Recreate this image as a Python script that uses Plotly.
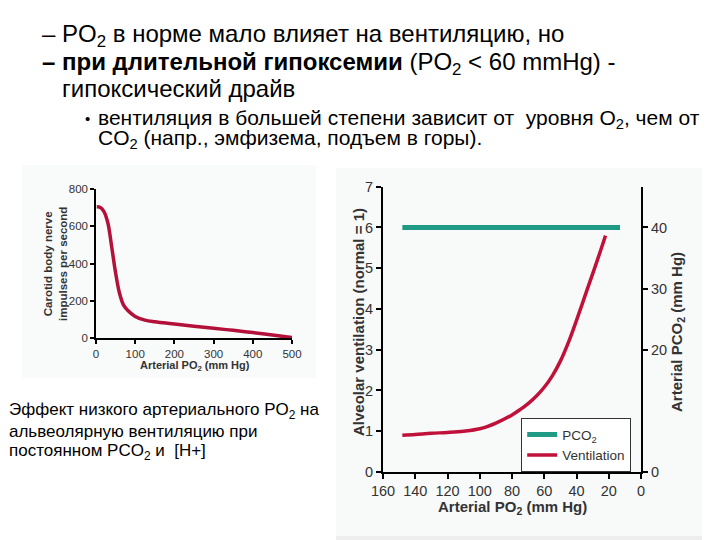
import plotly.graph_objects as go

# ---- data ----
carotid_po2 = [2, 10, 20, 30, 40, 50, 60, 70, 80, 100, 125, 150, 200, 250, 300, 350, 400, 450, 500]
carotid_imp = [705, 702, 680, 620, 490, 350, 240, 178, 150, 115, 96, 87, 75, 63, 52, 41, 29, 16, 2]

vent_po2 = [148, 140, 130, 120, 110, 100, 90, 80, 75, 70, 65, 60, 55, 50, 45, 40, 35, 30, 25, 22]
vent_val = [0.9, 0.92, 0.95, 0.97, 1.0, 1.06, 1.2, 1.4, 1.53, 1.68, 1.86, 2.08, 2.36, 2.72, 3.18, 3.72, 4.29, 4.86, 5.44, 5.8]

pco2_po2 = [148, 13]
pco2_val = [40, 40]

left_xticks = [0, 100, 200, 300, 400, 500]
left_yticks = [0, 200, 400, 600, 800]
right_xticks = [160, 140, 120, 100, 80, 60, 40, 20, 0]
right_yticks = [0, 1, 2, 3, 4, 5, 6, 7]
right_y2ticks = [0, 20, 30, 40]

W, H = 720, 540
FONT = "Liberation Sans, Arial, sans-serif"
RED = "#c0113a"
TEAL = "#1f9a87"


def px(x):
    return x / W


def py(y):
    return 1 - y / H


fig = go.Figure()

fig.add_trace(go.Scatter(x=carotid_po2, y=carotid_imp, mode="lines",
                         line=dict(color="#b3113a", width=3.5, shape="spline"),
                         xaxis="x", yaxis="y", showlegend=False))
fig.add_trace(go.Scatter(x=pco2_po2, y=pco2_val, mode="lines", name="PCO<sub>2</sub>",
                         line=dict(color=TEAL, width=5),
                         xaxis="x2", yaxis="y3"))
fig.add_trace(go.Scatter(x=vent_po2, y=vent_val, mode="lines", name="Ventilation",
                         line=dict(color=RED, width=3.5, shape="spline"),
                         xaxis="x2", yaxis="y2"))

tickfont_l = dict(family=FONT, size=11.5, color="#333333")
tickfont_r = dict(family=FONT, size=14.5, color="#333333")

fig.update_layout(
    width=W, height=H,
    margin=dict(l=0, r=0, t=0, b=0, pad=0, autoexpand=False),
    paper_bgcolor="white", plot_bgcolor="rgba(0,0,0,0)",
    font=dict(family=FONT, color="black"),
    xaxis=dict(domain=[px(96), px(292)], range=[0, 500], anchor="y",
               tickvals=left_xticks, showline=True, linecolor="black", linewidth=1.5,
               ticks="outside", ticklen=4, tickcolor="black", tickwidth=1.5,
               showgrid=False, zeroline=False, tickfont=tickfont_l),
    yaxis=dict(domain=[py(338), py(189)], range=[0, 800], anchor="x",
               tickvals=left_yticks, showline=True, linecolor="black", linewidth=1.5,
               ticks="outside", ticklen=4, tickcolor="black", tickwidth=1.5,
               showgrid=False, zeroline=False, tickfont=tickfont_l),
    xaxis2=dict(domain=[px(383), px(641)], range=[160, 0], anchor="y2",
                tickvals=right_xticks, showline=True, linecolor="black", linewidth=2,
                ticks="outside", ticklen=5, tickcolor="black", tickwidth=2,
                showgrid=False, zeroline=False, tickfont=tickfont_r),
    yaxis2=dict(domain=[py(472), py(186.7)], range=[0, 7], anchor="x2",
                tickvals=right_yticks, showline=True, linecolor="black", linewidth=2,
                ticks="outside", ticklen=5, tickcolor="black", tickwidth=2,
                showgrid=False, zeroline=False, tickfont=tickfont_r),
    yaxis3=dict(overlaying="y2", side="right", anchor="x2", range=[0, 7 * 40 / 6],
                tickvals=right_y2ticks, showline=True, linecolor="black", linewidth=2,
                ticks="outside", ticklen=5, tickcolor="black", tickwidth=2,
                showgrid=False, zeroline=False, tickfont=tickfont_r),
    legend=dict(x=px(521), y=py(418), xanchor="left", yanchor="top",
                bgcolor="white", bordercolor="#333333", borderwidth=1.2,
                font=dict(family=FONT, size=13.5, color="#333333"),
                tracegroupgap=0, itemwidth=30),
)

# faint background panels of the pasted images
fig.add_shape(type="rect", xref="paper", yref="paper", x0=px(22), x1=px(316), y0=py(378), y1=py(165),
              fillcolor="#f9fafa", line=dict(width=0), layer="below")
fig.add_shape(type="rect", xref="paper", yref="paper", x0=px(336), x1=px(702), y0=py(536), y1=py(168),
              fillcolor="#f8fafa", line=dict(width=0), layer="below")
fig.add_shape(type="rect", xref="paper", yref="paper", x0=px(336), x1=px(702), y0=py(540), y1=py(536),
              fillcolor="#eeeeee", line=dict(width=0), layer="below")

ann = []


def text(x, y, t, size, xanchor="left", yanchor="middle", angle=0, color="black", bold=False):
    if bold:
        t = "<b>" + t + "</b>"
    ann.append(dict(x=px(x), y=py(y), xref="paper", yref="paper", text=t, showarrow=False,
                    xanchor=xanchor, yanchor=yanchor, textangle=angle,
                    font=dict(family=FONT, size=size, color=color)))


# header text
text(40, 36, "– PO<sub>2</sub> в норме мало влияет на вентиляцию, но", 24)
text(40, 63, "<b>– при длительной гипоксемии</b> (PO<sub>2</sub> &lt; 60 mmHg) -", 24)
text(60, 88, "гипоксический драйв", 24)
text(83, 119, "•", 15)
text(96, 119, "вентиляция в большей степени зависит от  уровня O<sub>2</sub>, чем от", 21)
text(96, 139, "CO<sub>2</sub> (напр., эмфизема, подъем в горы).", 21)

# caption
text(7, 411, "Эффект низкого артериального PO<sub>2</sub> на", 17)
text(7, 431, "альвеолярную вентиляцию при", 17)
text(7, 452, "постоянном PCO<sub>2</sub> и  [H+]", 17)

# left chart titles
text(55, 264, "Carotid body nerve<br>impulses per second", 11.5, xanchor="center", angle=-90,
     color="#333333", bold=True)
text(195, 366, "Arterial PO<sub>2</sub> (mm Hg)", 11, xanchor="center", color="#333333", bold=True)

# right chart titles
text(358, 322, "Alveolar ventilation (normal = 1)", 15, xanchor="center", angle=-90,
     color="#333333", bold=True)
text(677, 332, "Arterial PCO<sub>2</sub> (mm Hg)", 15, xanchor="center", angle=-90,
     color="#333333", bold=True)
text(512, 507, "Arterial PO<sub>2</sub> (mm Hg)", 15, xanchor="center", color="#333333", bold=True)

fig.update_layout(annotations=ann)

fig.write_html("out.html", config={"displayModeBar": False},
               post_script="document.body.style.margin='0px';")
